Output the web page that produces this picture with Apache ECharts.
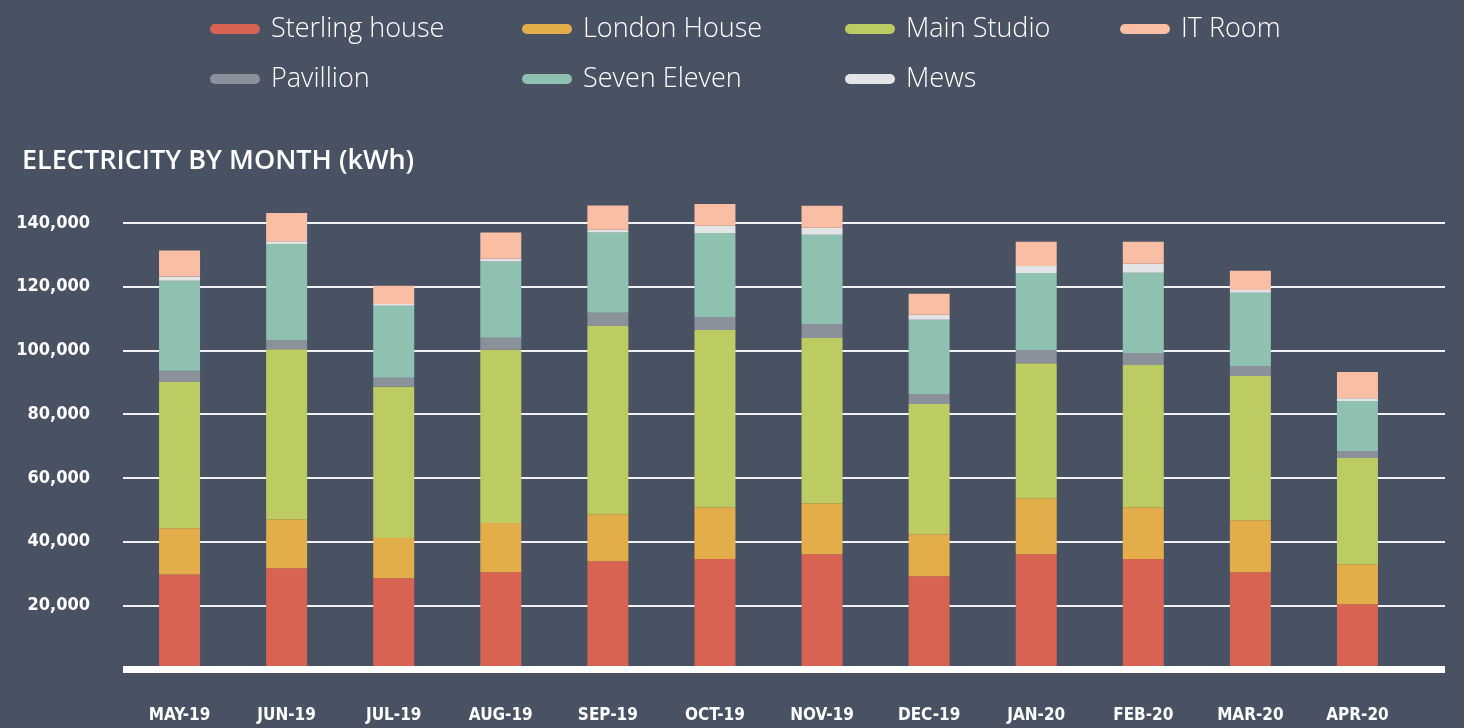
<!DOCTYPE html>
<html>
<head>
<meta charset="utf-8">
<title>Electricity by month</title>
<script src="https://cdn.jsdelivr.net/npm/echarts@6/dist/echarts.min.js"></script>
<style>
  html, body { margin: 0; padding: 0; background: #485263; }
  #chart { width: 1464px; height: 728px; }
</style>
</head>
<body>
<div id="chart"></div>
<script>
var months = ['MAY-19', 'JUN-19', 'JUL-19', 'AUG-19', 'SEP-19', 'OCT-19', 'NOV-19', 'DEC-19', 'JAN-20', 'FEB-20', 'MAR-20', 'APR-20'];

// kWh per site (bottom to top)
var sterling = [29700, 31600, 28500, 30400, 33800, 34500, 36000, 29100, 36000, 34500, 30400, 20300];
var london = [14500, 15400, 12600, 15400, 14800, 16300, 16000, 13200, 17600, 16300, 16300, 12600];
var mainStudio = [45900, 53400, 47500, 54400, 59100, 55600, 51900, 40900, 42400, 44600, 45300, 33300];
var pavillion = [3500, 2800, 2800, 3800, 4100, 4100, 4400, 3100, 4100, 3800, 3100, 2200];
var sevenEleven = [28300, 30200, 22600, 23900, 25200, 26400, 28000, 23300, 24200, 25200, 23000, 15700];
var mews = [1300, 900, 600, 900, 900, 2200, 2200, 1600, 2200, 2800, 900, 900];
var itRoom = [8200, 8800, 5700, 8200, 7600, 6900, 6900, 6600, 7600, 6900, 6000, 8200];

var yMax = 140000;
var yStep = 20000;

var pill = 'path://M5,0 H45 A5,5 0 0 1 45,10 H5 A5,5 0 0 1 5,0 Z';
var narrow = "'DejaVu Sans Condensed', 'Liberation Sans Narrow', sans-serif";

// the plot area: zero line at 669px, 140,000 at 223px
var plotBottom = 59;
var plotHeight = 728 - 223 - plotBottom;
// bars live in a taller grid so the tallest stacks are not clipped
var barMax = 160000;
var barTop = 728 - plotBottom - plotHeight * barMax / yMax;

function legendAt(left, names) {
  return {
    data: names,
    orient: 'vertical',
    left: left,
    top: 14,
    padding: 0,
    itemWidth: 50,
    itemHeight: 11,
    itemGap: 20,
    icon: pill,
    textStyle: {
      color: '#ffffff',
      fontFamily: "'Open Sans', sans-serif",
      fontWeight: 300,
      fontSize: 27,
      lineHeight: 30,
      padding: [0, 0, 0, 6]
    }
  };
}

function barSeries(name, data, color) {
  return {
    name: name,
    type: 'bar',
    stack: 'total',
    xAxisIndex: 0,
    yAxisIndex: 0,
    barWidth: 41,
    itemStyle: { color: color },
    data: data
  };
}

var myChart = echarts.init(document.getElementById('chart'));
var option = {
  backgroundColor: '#485263',
  animation: false,
  title: {
    text: 'ELECTRICITY BY MONTH (kWh)',
    left: 22,
    top: 148,
    padding: 0,
    textStyle: {
      color: '#ffffff',
      fontFamily: "'Open Sans', sans-serif",
      fontWeight: 600,
      fontSize: 27
    }
  },
  legend: [
    legendAt(210, ['Sterling house', 'Pavillion']),
    legendAt(522, ['London House', 'Seven Eleven']),
    legendAt(845, ['Main Studio', 'Mews']),
    legendAt(1120, ['IT Room'])
  ],
  grid: [
    { left: 126, right: 53, top: barTop, bottom: plotBottom },
    { left: 123, right: 19, top: 223, bottom: plotBottom }
  ],
  xAxis: [
    {
      type: 'category',
      gridIndex: 0,
      data: months,
      axisLine: { show: false },
      axisTick: { show: false },
      axisLabel: {
        color: '#ffffff',
        fontFamily: narrow,
        fontWeight: 'bold',
        fontSize: 17,
        margin: 38
      }
    },
    {
      type: 'value',
      gridIndex: 1,
      min: 0,
      max: 1,
      z: 5,
      axisLine: { show: true, lineStyle: { color: '#ffffff', width: 7, cap: 'butt' } },
      axisTick: { show: false },
      axisLabel: { show: false },
      splitLine: { show: false }
    }
  ],
  yAxis: [
    {
      type: 'value',
      gridIndex: 0,
      min: 0,
      max: barMax,
      interval: yStep,
      show: false,
      splitLine: { show: false }
    },
    {
      type: 'value',
      gridIndex: 1,
      min: 0,
      max: yMax,
      interval: yStep,
      axisLine: { show: false },
      axisTick: { show: false },
      axisLabel: {
        color: '#ffffff',
        fontFamily: narrow,
        fontWeight: 'bold',
        fontSize: 18,
        margin: 33,
        formatter: function (v) {
          return v === 0 ? '' : v.toLocaleString('en-US');
        }
      },
      splitLine: { lineStyle: { color: '#f2f2f4', width: 2 } }
    }
  ],
  series: [
    barSeries('Sterling house', sterling, '#d86352'),
    barSeries('London House', london, '#e3ad4a'),
    barSeries('Main Studio', mainStudio, '#bccc62'),
    barSeries('Pavillion', pavillion, '#8b919b'),
    barSeries('Seven Eleven', sevenEleven, '#8fc1b0'),
    barSeries('Mews', mews, '#e3e4e5'),
    barSeries('IT Room', itRoom, '#f9bea3')
  ]
};
myChart.setOption(option);
</script>
</body>
</html>
